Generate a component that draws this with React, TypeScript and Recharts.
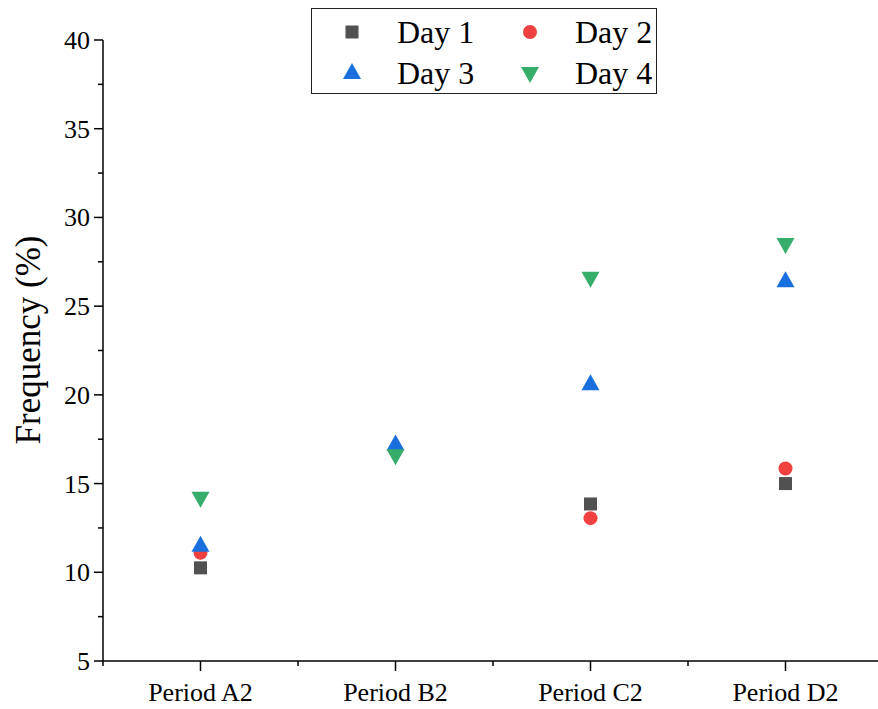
import { ScatterChart, Scatter, XAxis, YAxis } from "recharts";

const periods = ["Period A2", "Period B2", "Period C2", "Period D2"];
const day1 = [10.25, null, 13.85, 15.0];
const day2 = [11.1, null, 13.05, 15.85];
const day3 = [11.5, 17.2, 20.6, 26.4];
const day4 = [14.2, 16.6, 26.6, 28.5];
const xTicks = [0.5, 1, 1.5, 2, 2.5, 3, 3.5, 4, 4.5];
const yTicks = [5, 7.5, 10, 12.5, 15, 17.5, 20, 22.5, 25, 27.5, 30, 32.5, 35, 37.5, 40];

const FONT = "'Liberation Serif', 'Times New Roman', serif";

const series = [
  { name: "Day 1", values: day1, color: "#515151", kind: "square" },
  { name: "Day 2", values: day2, color: "#F14040", kind: "circle" },
  { name: "Day 3", values: day3, color: "#1A6FDF", kind: "up" },
  { name: "Day 4", values: day4, color: "#37AD6B", kind: "down" },
];

function toPoints(values: (number | null)[]) {
  return values
    .map((v, i) => ({ x: i + 1, y: v }))
    .filter((p) => p.y != null);
}

function Marker({ kind, cx, cy, color }: { kind: string; cx: number; cy: number; color: string }) {
  if (kind === "square") return <rect x={cx - 6.5} y={cy - 6.5} width={13} height={13} fill={color} />;
  if (kind === "circle") return <circle cx={cx} cy={cy} r={7} fill={color} />;
  if (kind === "up")
    return <polygon points={`${cx},${cy - 10} ${cx + 9},${cy + 6} ${cx - 9},${cy + 6}`} fill={color} />;
  return <polygon points={`${cx - 9},${cy - 6} ${cx + 9},${cy - 6} ${cx},${cy + 10}`} fill={color} />;
}

function XTick(props: any) {
  const { x, y, payload } = props;
  const major = Number.isInteger(payload.value);
  return (
    <g>
      <line x1={x} y1={y} x2={x} y2={y + (major ? 10 : 5)} stroke="#000" strokeWidth={1.5} />
      {major && (
        <text x={x} y={y + 40} textAnchor="middle" fontFamily={FONT} fontSize={26} fill="#000">
          {periods[payload.value - 1]}
        </text>
      )}
    </g>
  );
}

function YTick(props: any) {
  const { x, y, payload } = props;
  const major = payload.value % 5 === 0;
  return (
    <g>
      <line x1={x} y1={y} x2={x - (major ? 9 : 5)} y2={y} stroke="#000" strokeWidth={1.5} />
      {major && (
        <text x={x - 13} y={y + 9} textAnchor="end" fontFamily={FONT} fontSize={26} fill="#000">
          {payload.value}
        </text>
      )}
    </g>
  );
}

function LegendBox() {
  const row = (a: (typeof series)[number], b: (typeof series)[number], top: number) => (
    <div style={{ position: "absolute", left: 0, top, width: 346, height: 40 }}>
      {[a, b].map((s, i) => (
        <div key={s.name} style={{ position: "absolute", left: i * 178, top: 0, height: 40 }}>
          <svg width={80} height={40} style={{ position: "absolute", left: 0, top: 0 }}>
            <Marker kind={s.kind} cx={40} cy={20} color={s.color} />
          </svg>
          <span
            style={{
              position: "absolute",
              left: 85,
              top: 2,
              fontFamily: FONT,
              fontSize: 32,
              lineHeight: "36px",
              whiteSpace: "nowrap",
              color: "#000",
            }}
          >
            {s.name}
          </span>
        </div>
      ))}
    </div>
  );
  return (
    <div
      style={{
        position: "absolute",
        left: 311,
        top: 8,
        width: 346,
        height: 86,
        border: "1px solid #222",
        background: "#fff",
        boxSizing: "border-box",
      }}
    >
      {row(series[0], series[1], 3)}
      {row(series[2], series[3], 44)}
    </div>
  );
}

export default function App() {
  return (
    <div style={{ position: "absolute", left: 0, top: 0, width: 878, height: 709, overflow: "hidden", background: "#fff" }}>
      <ScatterChart width={890} height={709} margin={{ top: 40, right: 7, bottom: 0, left: 43 }}>
        <XAxis
          type="number"
          dataKey="x"
          domain={[0.5, 4.5]}
          ticks={xTicks}
          interval={0}
          height={48}
          tickSize={0}
          tickMargin={0}
          tick={<XTick />}
          axisLine={{ stroke: "#000", strokeWidth: 1.5 }}
          allowDataOverflow
        />
        <YAxis
          type="number"
          dataKey="y"
          domain={[5, 40]}
          ticks={yTicks}
          interval={0}
          width={60}
          tickSize={0}
          tickMargin={0}
          tick={<YTick />}
          axisLine={{ stroke: "#000", strokeWidth: 1.5 }}
          label={{
            content: () => (
              <text
                x={28}
                y={340}
                transform="rotate(-90 28 340)"
                textAnchor="middle"
                dominantBaseline="central"
                fontFamily={FONT}
                fontSize={35}
                fill="#000"
              >
                Frequency (%)
              </text>
            ),
          }}
        />
        {series.map((s) => (
          <Scatter
            key={s.name}
            name={s.name}
            data={toPoints(s.values)}
            fill={s.color}
            isAnimationActive={false}
            shape={(p: any) => <Marker kind={s.kind} cx={p.cx} cy={p.cy} color={s.color} />}
          />
        ))}
      </ScatterChart>
      <LegendBox />
    </div>
  );
}
